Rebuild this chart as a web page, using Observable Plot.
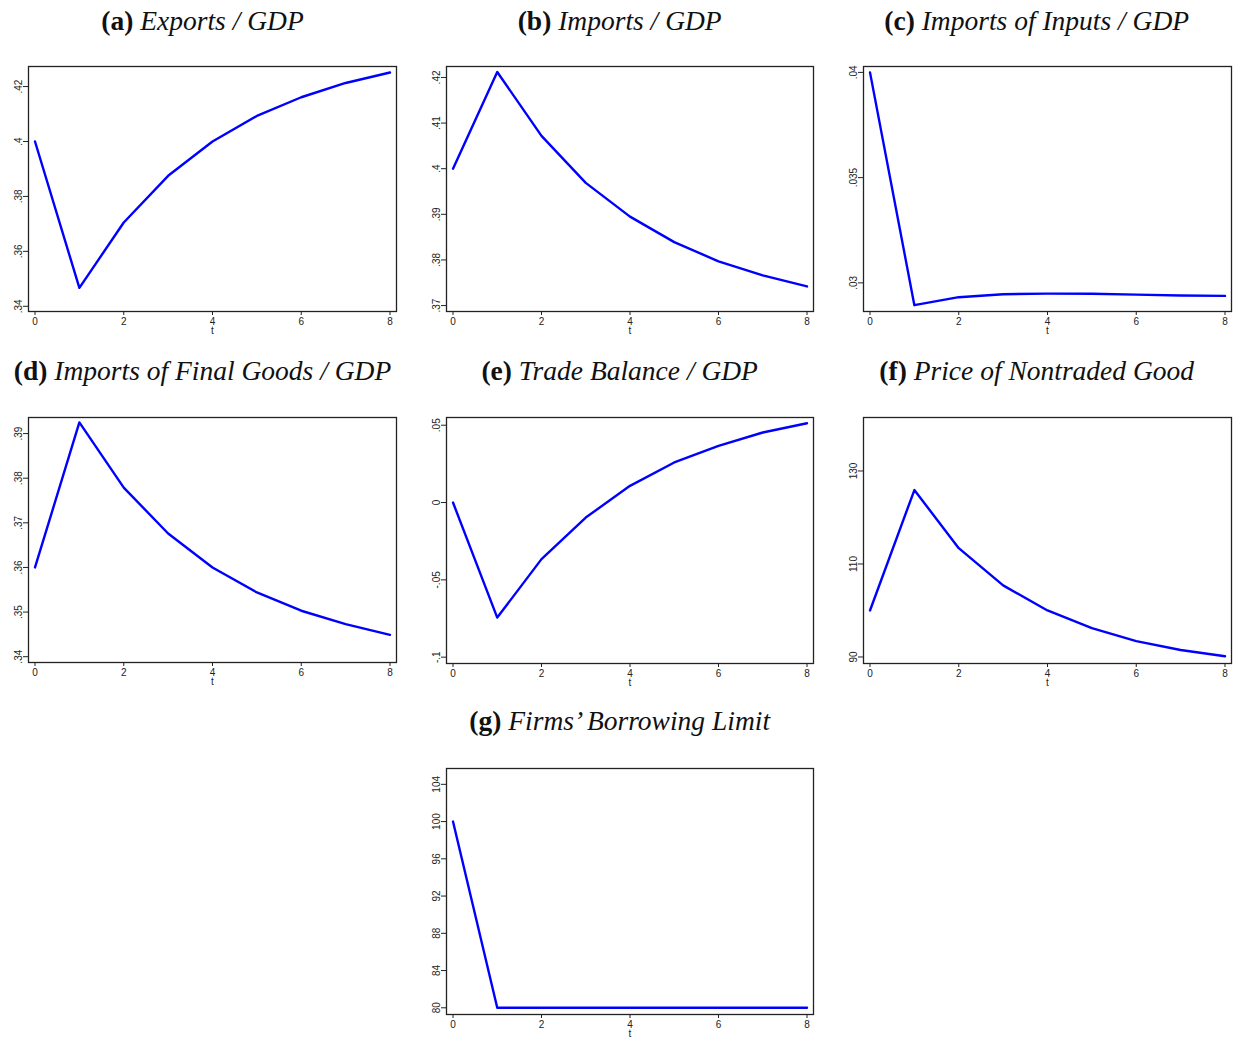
<!DOCTYPE html>
<html>
<head>
<meta charset="utf-8">
<script src="https://cdn.jsdelivr.net/npm/d3@7"></script>
<script src="https://cdn.jsdelivr.net/npm/@observablehq/plot@0.6"></script>
<style>
  html, body { margin: 0; padding: 0; background: #fff; overflow: hidden; }
  #root { position: relative; width: 1233px; height: 1038px; }
  .title { position: absolute; width: 420px; text-align: center; font-family: "Liberation Serif", "Times New Roman", serif; font-size: 27.5px; line-height: 30px; color: #111; white-space: nowrap; }
  .title b { font-style: normal; font-weight: bold; }
  .title i { font-style: italic; }
  .panel { position: absolute; }
</style>
</head>
<body>
<div id="root"></div>
<script>
// ---- data ----
const t = [0, 1, 2, 3, 4, 5, 6, 7, 8];
const xTicks = [0, 2, 4, 6, 8];

const exportsGDP      = [0.400, 0.3467, 0.3705, 0.3875, 0.400, 0.4093, 0.4161, 0.4213, 0.4251];
const importsGDP      = [0.400, 0.4212, 0.4072, 0.3969, 0.3895, 0.3839, 0.3797, 0.3766, 0.3742];
const inputsGDP       = [0.0400, 0.02894, 0.02932, 0.02946, 0.02949, 0.02948, 0.02944, 0.02940, 0.02938];
const finalGoodsGDP   = [0.360, 0.3925, 0.3779, 0.3676, 0.360, 0.3544, 0.3503, 0.3473, 0.3449];
const tradeBalanceGDP = [0.000, -0.0744, -0.0366, -0.0097, 0.0108, 0.0259, 0.0367, 0.0453, 0.0513];
const priceNontraded  = [100, 125.9, 113.4, 105.4, 100.0, 96.2, 93.4, 91.5, 90.15];
const borrowingLimit  = [100, 80, 80, 80, 80, 80, 80, 80, 80];

const ticksA = [0.34, 0.36, 0.38, 0.40, 0.42];
const ticksB = [0.37, 0.38, 0.39, 0.40, 0.41, 0.42];
const ticksC = [0.03, 0.035, 0.04];
const ticksD = [0.34, 0.35, 0.36, 0.37, 0.38, 0.39];
const ticksE = [-0.1, -0.05, 0, 0.05];
const ticksF = [90, 110, 130];
const ticksG = [80, 84, 88, 92, 96, 100, 104];

const labels = ["(a)", "(b)", "(c)", "(d)", "(e)", "(f)", "(g)"];
const titles = ["Exports / GDP", "Imports / GDP", "Imports of Inputs / GDP",
  "Imports of Final Goods / GDP", "Trade Balance / GDP", "Price of Nontraded Good",
  "Firms\u2019 Borrowing Limit"];

// ---- layout (frame boxes) ----
const panels = [
  {label: labels[0], title: titles[0], values: exportsGDP,      ticks: ticksA, domain: [0.3381, 0.4273], box: [28, 396, 66, 311], tc: 202.5, tb: 29},
  {label: labels[1], title: titles[1], values: importsGDP,      ticks: ticksB, domain: [0.3687, 0.4224], box: [446, 813, 66, 311], tc: 619.7, tb: 29},
  {label: labels[2], title: titles[2], values: inputsGDP,       ticks: ticksC, domain: [0.02864, 0.04028], box: [863, 1231, 66, 311], tc: 1036.7, tb: 29},
  {label: labels[3], title: titles[3], values: finalGoodsGDP,   ticks: ticksD, domain: [0.3387, 0.3936], box: [28, 396, 417, 662], tc: 202.5, tb: 379},
  {label: labels[4], title: titles[4], values: tradeBalanceGDP, ticks: ticksE, domain: [-0.1041, 0.055], box: [446, 813, 417, 663], tc: 619.7, tb: 379},
  {label: labels[5], title: titles[5], values: priceNontraded,  ticks: ticksF, domain: [88.6, 141.5], box: [863, 1231, 417, 663], tc: 1036.7, tb: 379},
  {label: labels[6], title: titles[6], values: borrowingLimit,  ticks: ticksG, domain: [79.28, 105.7], box: [446, 813, 768, 1014], tc: 619.7, tb: 729}
];

const fmt = d => {
  if (d === 0) return "0";
  return String(+d.toFixed(4)).replace(/^(-?)0\./, "$1.");
};

const root = document.getElementById("root");
const mL = 30, mR = 2, mT = 8, mB = 32;

for (const p of panels) {
  const [x0, x1, y0, y1] = p.box;
  const data = t.map((tt, i) => ({t: tt, v: p.values[i]}));
  const chart = Plot.plot({
    width: (x1 - x0) + mL + mR,
    height: (y1 - y0) + mT + mB,
    marginLeft: mL, marginRight: mR, marginTop: mT, marginBottom: mB,
    style: {fontFamily: "'Liberation Sans Narrow', 'Liberation Sans', Arial, sans-serif", fontSize: "10px", color: "#222", background: "transparent", overflow: "visible"},
    x: {domain: [0, 8], insetLeft: 6.5, insetRight: 6.5},
    y: {domain: p.domain},
    marks: [
      Plot.line(data, {x: "t", y: "v", stroke: "#0000ff", strokeWidth: 2.4}),
      Plot.frame({stroke: "#222", strokeWidth: 1.3}),
      Plot.axisY({ticks: p.ticks, tickFormat: fmt, tickRotate: -90, tickSize: 5, tickPadding: 2, label: null}),
      Plot.axisX({ticks: xTicks, tickFormat: d => String(d), tickSize: 4, tickPadding: 2, label: null}),
      Plot.text(["t"], {text: d => d, frameAnchor: "bottom", dy: 22, fill: "#222"})
    ]
  });
  const wrap = document.createElement("div");
  wrap.className = "panel";
  wrap.style.left = (x0 - mL) + "px";
  wrap.style.top = (y0 - mT) + "px";
  wrap.appendChild(chart);
  root.appendChild(wrap);

  const title = document.createElement("div");
  title.className = "title";
  title.style.left = (p.tc - 210) + "px";
  title.style.top = (p.tb - 23) + "px";
  title.innerHTML = `<b>${p.label}</b> <i>${p.title}</i>`;
  root.appendChild(title);
}
</script>
</body>
</html>
